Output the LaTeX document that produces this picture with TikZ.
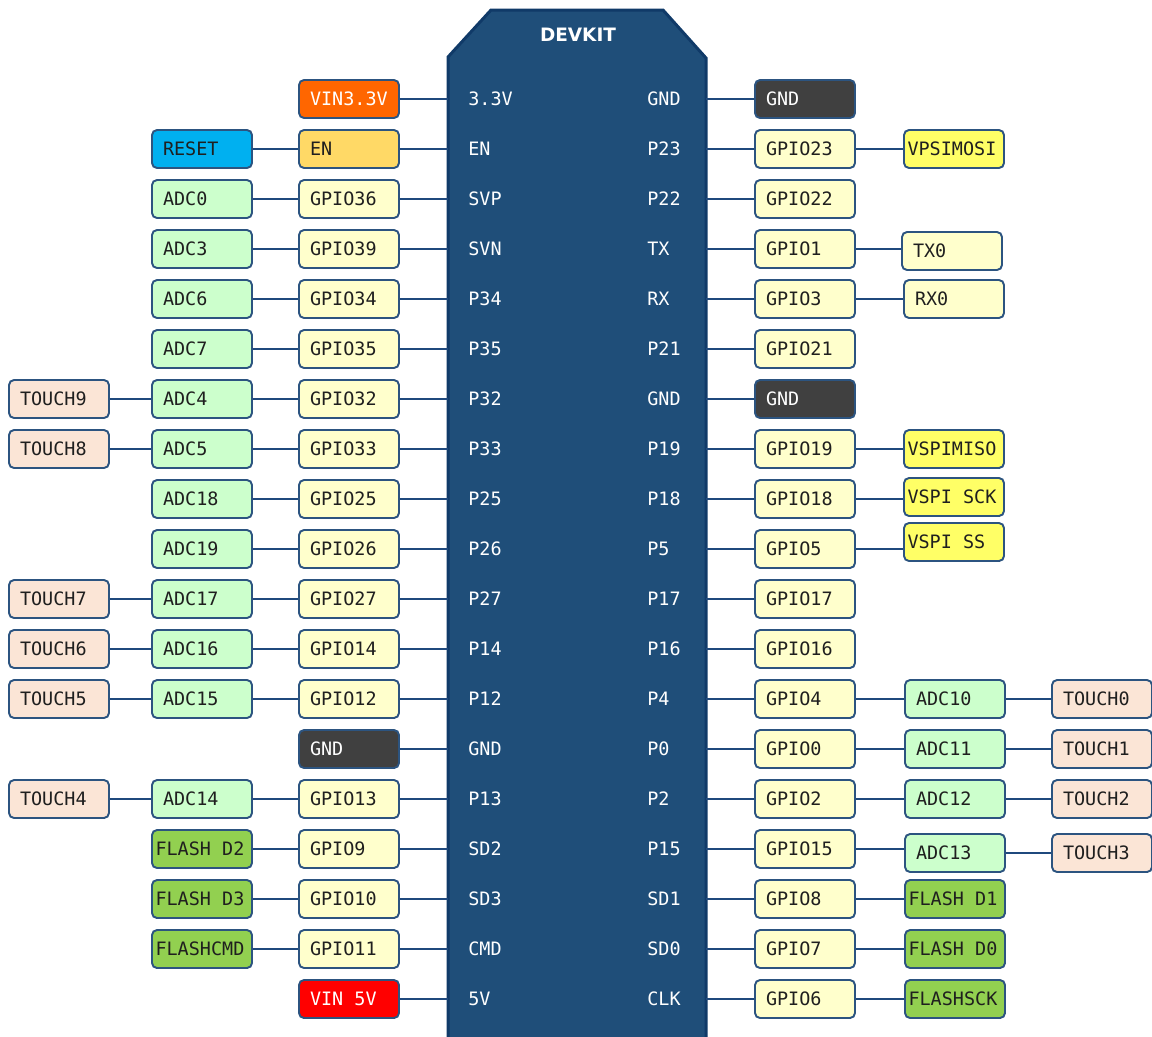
\documentclass[tikz,border=0pt]{standalone}
\usepackage{fontspec}
\setmonofont{DejaVu Sans Mono}
\setsansfont{DejaVu Sans}
\definecolor{wire}{RGB}{31,73,125}
\definecolor{boxline}{RGB}{44,84,128}
\definecolor{boardfill}{RGB}{31,78,121}
\definecolor{boardline}{RGB}{16,58,104}
\definecolor{gpiofill}{RGB}{255,255,204}
\definecolor{adcfill}{RGB}{204,255,204}
\definecolor{touchfill}{RGB}{251,229,214}
\definecolor{flashfill}{RGB}{146,208,80}
\definecolor{vspifill}{RGB}{255,255,102}
\definecolor{gndfill}{RGB}{64,64,64}
\definecolor{enfill}{RGB}{255,217,102}
\definecolor{resetfill}{RGB}{0,176,240}
\definecolor{v33fill}{RGB}{255,102,0}
\definecolor{v5fill}{RGB}{255,0,0}
\newcommand{\pgap}{\phantom{0}}
\begin{document}
\begin{tikzpicture}[x=0.02cm,y=-0.02cm,
  pin box/.style={draw=boxline,line width=1.1pt,rounded corners=0.1cm,
    minimum width=2cm,minimum height=0.76cm,text width=1.56cm,inner xsep=0.22cm,
    align=left,text=black!88,font=\ttfamily\fontsize{10.5}{12}\selectfont},
  tight/.style={inner xsep=0.07cm,text width=1.86cm},
  gpio node/.style={pin box,fill=gpiofill},
  adc node/.style={pin box,fill=adcfill},
  touch node/.style={pin box,fill=touchfill},
  flash node/.style={pin box,tight,fill=flashfill},
  vspi node/.style={pin box,tight,fill=vspifill},
  gnd node/.style={pin box,fill=gndfill,text=white},
  board label/.style={anchor=west,inner xsep=0pt,text=white,font=\ttfamily\fontsize{10.5}{12}\selectfont},
  pin line/.style={draw=wire,line width=1.6pt}]
  \useasboundingbox (0,0) rectangle (1152,1036);

  % board
  \draw[fill=boardfill,draw=boardline,line width=1.7pt]
    (448,1050) -- (448,57) -- (491,10) -- (663,10) -- (706,58) -- (706,1050) -- cycle;
  \node[text=white,font=\sffamily\bfseries\fontsize{10.5}{12}\selectfont] (devkit) at (578,35) {DEVKIT};
  \coordinate (bl) at (448,0);
  \coordinate (br) at (706,0);

  % board pins, left
  \node[board label] (l0) at (468,99) {3.3V};
  \node[board label] (l1) at (468,149) {EN};
  \node[board label] (l2) at (468,199) {SVP};
  \node[board label] (l3) at (468,249) {SVN};
  \node[board label] (l4) at (468,299) {P34};
  \node[board label] (l5) at (468,349) {P35};
  \node[board label] (l6) at (468,399) {P32};
  \node[board label] (l7) at (468,449) {P33};
  \node[board label] (l8) at (468,499) {P25};
  \node[board label] (l9) at (468,549) {P26};
  \node[board label] (l10) at (468,599) {P27};
  \node[board label] (l11) at (468,649) {P14};
  \node[board label] (l12) at (468,699) {P12};
  \node[board label] (l13) at (468,749) {GND};
  \node[board label] (l14) at (468,799) {P13};
  \node[board label] (l15) at (468,849) {SD2};
  \node[board label] (l16) at (468,899) {SD3};
  \node[board label] (l17) at (468,949) {CMD};
  \node[board label] (l18) at (468,999) {5V};

  % board pins, right
  \node[board label] (r0) at (647,99) {GND};
  \node[board label] (r1) at (647,149) {P23};
  \node[board label] (r2) at (647,199) {P22};
  \node[board label] (r3) at (647,249) {TX};
  \node[board label] (r4) at (647,299) {RX};
  \node[board label] (r5) at (647,349) {P21};
  \node[board label] (r6) at (647,399) {GND};
  \node[board label] (r7) at (647,449) {P19};
  \node[board label] (r8) at (647,499) {P18};
  \node[board label] (r9) at (647,549) {P5};
  \node[board label] (r10) at (647,599) {P17};
  \node[board label] (r11) at (647,649) {P16};
  \node[board label] (r12) at (647,699) {P4};
  \node[board label] (r13) at (647,749) {P0};
  \node[board label] (r14) at (647,799) {P2};
  \node[board label] (r15) at (647,849) {P15};
  \node[board label] (r16) at (647,899) {SD1};
  \node[board label] (r17) at (647,949) {SD0};
  \node[board label] (r18) at (647,999) {CLK};

  % left side
  \node[pin box,fill=v33fill,text=white] (vin33) at (349,99) {VIN3.3V};
  \node[pin box,fill=resetfill] (reset) at (202,149) {RESET};
  \node[pin box,fill=enfill] (en) at (349,149) {EN};
  \node[adc node] (adc0) at (202,199) {ADC0};
  \node[gpio node] (gpio36) at (349,199) {GPIO36};
  \node[adc node] (adc3) at (202,249) {ADC3};
  \node[gpio node] (gpio39) at (349,249) {GPIO39};
  \node[adc node] (adc6) at (202,299) {ADC6};
  \node[gpio node] (gpio34) at (349,299) {GPIO34};
  \node[adc node] (adc7) at (202,349) {ADC7};
  \node[gpio node] (gpio35) at (349,349) {GPIO35};
  \node[touch node] (touch9) at (59,399) {TOUCH9};
  \node[adc node] (adc4) at (202,399) {ADC4};
  \node[gpio node] (gpio32) at (349,399) {GPIO32};
  \node[touch node] (touch8) at (59,449) {TOUCH8};
  \node[adc node] (adc5) at (202,449) {ADC5};
  \node[gpio node] (gpio33) at (349,449) {GPIO33};
  \node[adc node] (adc18) at (202,499) {ADC18};
  \node[gpio node] (gpio25) at (349,499) {GPIO25};
  \node[adc node] (adc19) at (202,549) {ADC19};
  \node[gpio node] (gpio26) at (349,549) {GPIO26};
  \node[touch node] (touch7) at (59,599) {TOUCH7};
  \node[adc node] (adc17) at (202,599) {ADC17};
  \node[gpio node] (gpio27) at (349,599) {GPIO27};
  \node[touch node] (touch6) at (59,649) {TOUCH6};
  \node[adc node] (adc16) at (202,649) {ADC16};
  \node[gpio node] (gpio14) at (349,649) {GPIO14};
  \node[touch node] (touch5) at (59,699) {TOUCH5};
  \node[adc node] (adc15) at (202,699) {ADC15};
  \node[gpio node] (gpio12) at (349,699) {GPIO12};
  \node[gnd node] (gndl) at (349,749) {GND};
  \node[touch node] (touch4) at (59,799) {TOUCH4};
  \node[adc node] (adc14) at (202,799) {ADC14};
  \node[gpio node] (gpio13) at (349,799) {GPIO13};
  \node[flash node] (flashd2) at (202,849) {FLASH\pgap D2};
  \node[gpio node] (gpio9) at (349,849) {GPIO9};
  \node[flash node] (flashd3) at (202,899) {FLASH\pgap D3};
  \node[gpio node] (gpio10) at (349,899) {GPIO10};
  \node[flash node] (flashcmd) at (202,949) {FLASHCMD};
  \node[gpio node] (gpio11) at (349,949) {GPIO11};
  \node[pin box,fill=v5fill,text=white] (vin5) at (349,999) {VIN\pgap 5V};

  % right side
  \node[gnd node] (gndr1) at (805,99) {GND};
  \node[gpio node] (gpio23) at (805,149) {GPIO23};
  \node[vspi node] (vspimosi) at (954,149) {VPSIMOSI};
  \node[gpio node] (gpio22) at (805,199) {GPIO22};
  \node[gpio node] (gpio1) at (805,249) {GPIO1};
  \node[gpio node] (tx0) at (952,251) {TX0};
  \node[gpio node] (gpio3) at (805,299) {GPIO3};
  \node[gpio node] (rx0) at (954,299) {RX0};
  \node[gpio node] (gpio21) at (805,349) {GPIO21};
  \node[gnd node] (gndr2) at (805,399) {GND};
  \node[gpio node] (gpio19) at (805,449) {GPIO19};
  \node[vspi node] (vspimiso) at (954,449) {VSPIMISO};
  \node[gpio node] (gpio18) at (805,499) {GPIO18};
  \node[vspi node] (vspisck) at (954,497) {VSPI\pgap SCK};
  \node[gpio node] (gpio5) at (805,549) {GPIO5};
  \node[vspi node] (vspiss) at (954,542) {VSPI\pgap SS};
  \node[gpio node] (gpio17) at (805,599) {GPIO17};
  \node[gpio node] (gpio16) at (805,649) {GPIO16};
  \node[gpio node] (gpio4) at (805,699) {GPIO4};
  \node[adc node] (adc10) at (955,699) {ADC10};
  \node[touch node] (touch0) at (1102,699) {TOUCH0};
  \node[gpio node] (gpio0) at (805,749) {GPIO0};
  \node[adc node] (adc11) at (955,749) {ADC11};
  \node[touch node] (touch1) at (1102,749) {TOUCH1};
  \node[gpio node] (gpio2) at (805,799) {GPIO2};
  \node[adc node] (adc12) at (955,799) {ADC12};
  \node[touch node] (touch2) at (1102,799) {TOUCH2};
  \node[gpio node] (gpio15) at (805,849) {GPIO15};
  \node[adc node] (adc13) at (955,853) {ADC13};
  \node[touch node] (touch3) at (1102,853) {TOUCH3};
  \node[gpio node] (gpio8) at (805,899) {GPIO8};
  \node[flash node] (flashd1) at (955,899) {FLASH\pgap D1};
  \node[gpio node] (gpio7) at (805,949) {GPIO7};
  \node[flash node] (flashd0) at (955,949) {FLASH\pgap D0};
  \node[gpio node] (gpio6) at (805,999) {GPIO6};
  \node[flash node] (flashsck) at (955,999) {FLASHSCK};

  \path[pin line]
   (vin33) edge (vin33 -| bl)
   (reset) edge (en)   (en) edge (en -| bl)
   (adc0) edge (gpio36)   (gpio36) edge (gpio36 -| bl)
   (adc3) edge (gpio39)   (gpio39) edge (gpio39 -| bl)
   (adc6) edge (gpio34)   (gpio34) edge (gpio34 -| bl)
   (adc7) edge (gpio35)   (gpio35) edge (gpio35 -| bl)
   (touch9) edge (adc4)   (adc4) edge (gpio32)   (gpio32) edge (gpio32 -| bl)
   (touch8) edge (adc5)   (adc5) edge (gpio33)   (gpio33) edge (gpio33 -| bl)
   (adc18) edge (gpio25)   (gpio25) edge (gpio25 -| bl)
   (adc19) edge (gpio26)   (gpio26) edge (gpio26 -| bl)
   (touch7) edge (adc17)   (adc17) edge (gpio27)   (gpio27) edge (gpio27 -| bl)
   (touch6) edge (adc16)   (adc16) edge (gpio14)   (gpio14) edge (gpio14 -| bl)
   (touch5) edge (adc15)   (adc15) edge (gpio12)   (gpio12) edge (gpio12 -| bl)
   (gndl) edge (gndl -| bl)
   (touch4) edge (adc14)   (adc14) edge (gpio13)   (gpio13) edge (gpio13 -| bl)
   (flashd2) edge (gpio9)   (gpio9) edge (gpio9 -| bl)
   (flashd3) edge (gpio10)   (gpio10) edge (gpio10 -| bl)
   (flashcmd) edge (gpio11)   (gpio11) edge (gpio11 -| bl)
   (vin5) edge (vin5 -| bl);

  \path[pin line]
   (gndr1) edge (gndr1 -| br)
   (gpio23) edge (gpio23 -| br)   (gpio23) edge (vspimosi)
   (gpio22) edge (gpio22 -| br)
   (gpio1) edge (gpio1 -| br)   (gpio1) edge (gpio1 -| tx0.west)
   (gpio3) edge (gpio3 -| br)   (gpio3) edge (rx0)
   (gpio21) edge (gpio21 -| br)
   (gndr2) edge (gndr2 -| br)
   (gpio19) edge (gpio19 -| br)   (gpio19) edge (vspimiso)
   (gpio18) edge (gpio18 -| br)   (gpio18) edge (gpio18 -| vspisck.west)
   (gpio5) edge (gpio5 -| br)   (gpio5) edge (gpio5 -| vspiss.west)
   (gpio17) edge (gpio17 -| br)
   (gpio16) edge (gpio16 -| br)
   (gpio4) edge (gpio4 -| br)   (gpio4) edge (adc10)   (adc10) edge (touch0)
   (gpio0) edge (gpio0 -| br)   (gpio0) edge (adc11)   (adc11) edge (touch1)
   (gpio2) edge (gpio2 -| br)   (gpio2) edge (adc12)   (adc12) edge (touch2)
   (gpio15) edge (gpio15 -| br)   (gpio15) edge (gpio15 -| adc13.west)   (adc13) edge (touch3)
   (gpio8) edge (gpio8 -| br)   (gpio8) edge (flashd1)
   (gpio7) edge (gpio7 -| br)   (gpio7) edge (flashd0)
   (gpio6) edge (gpio6 -| br)   (gpio6) edge (flashsck);
\end{tikzpicture}
\end{document}
